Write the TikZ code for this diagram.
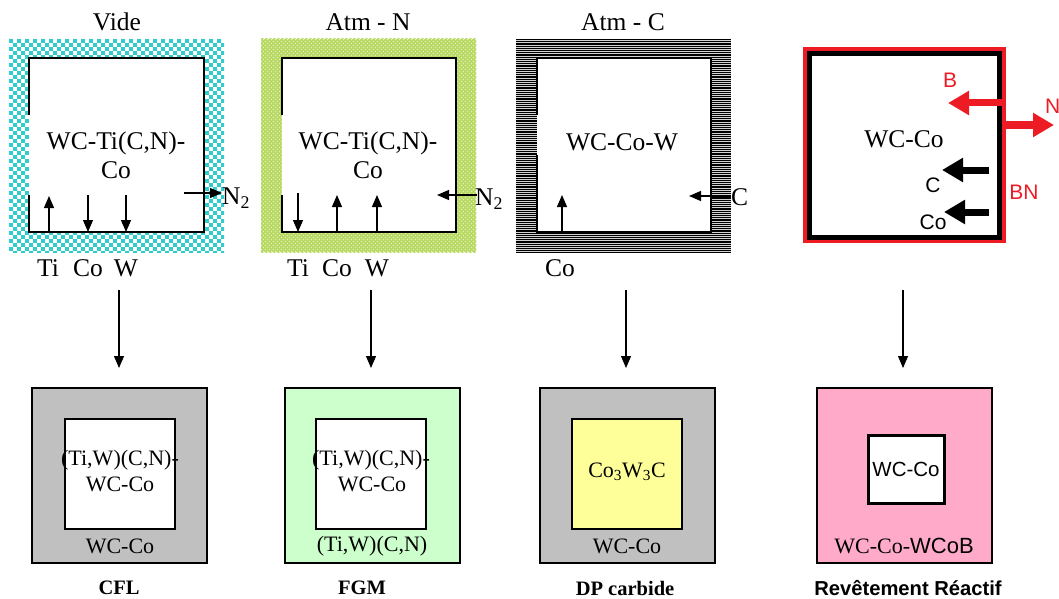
\documentclass[tikz,border=0pt]{standalone}
\usepackage{fontspec}
\setmainfont{Liberation Serif}
\newfontfamily\sansf{Liberation Sans}
\usetikzlibrary{arrows.meta}
\definecolor{cyanc}{HTML}{33CCCC}
\definecolor{greenbg}{HTML}{E4F2BA}
\definecolor{greenln}{HTML}{B3D75A}
\definecolor{grayfill}{HTML}{C0C0C0}
\definecolor{lightgreen}{HTML}{CCFFCC}
\definecolor{lightyellow}{HTML}{FFFF99}
\definecolor{pinkfill}{HTML}{FFAAC8}
\definecolor{redc}{HTML}{ED1C24}
\begin{document}
\begin{tikzpicture}[x=1pt,y=-1pt,
  toplbl/.style={font=\fontsize{25.5}{28}\selectfont, inner sep=0pt},
  botlbl/.style={font=\fontsize{22}{24}\selectfont, inner sep=0pt},
  caplbl/.style={font=\fontsize{20.5}{24}\selectfont\bfseries, inner sep=0pt},
  sanslbl/.style={font=\sansf\fontsize{21}{24}\selectfont, inner sep=0pt},
  thinarrow/.style={-{Triangle[width=10pt,length=12pt]}, line width=1.2pt},
  downarrow/.style={-{Triangle[width=10pt,length=12pt]}, line width=1.1pt},
  bigarrow/.style={-{Triangle[width=23pt,length=21pt]}, line width=7pt},
  innerline/.style={line width=2pt, line join=miter},
  outerbox/.style={draw, line width=2pt, minimum width=175pt, minimum height=175pt, inner sep=0pt},
  innerbox/.style={draw, line width=2pt, minimum width=110pt, minimum height=110pt, inner sep=0pt},
]
\useasboundingbox (0,0) rectangle (1059,599);

% ---------- Titles ----------
\node[toplbl] (t1) at (117,22) {Vide};
\node[toplbl] (t2) at (368,22) {Atm - N};
\node[toplbl] (t3) at (623,22) {Atm - C};

% ---------- Box 1 : checkerboard ----------
\begin{scope}
  \clip (9,39) rectangle (224,252);
  \fill[white] (9,39) rectangle (224,252);
  \foreach \x in {9,17,...,225} {
    \foreach \y in {39,47,...,253} {
      \fill[cyanc] (\x,\y) rectangle ++(4,4);
      \fill[cyanc] (\x+4,\y+4) rectangle ++(4,4);
    }
  }
\end{scope}
\fill[white] (29,58) rectangle (204,232);
\draw[innerline] (29,115) -- (29,58) -- (204,58) -- (204,232) -- (29,232) -- (29,195);

% ---------- Box 2 : green crosshatch ----------
\begin{scope}
  \clip (261,39) rectangle (476,252);
  \fill[greenbg] (261,39) rectangle (476,252);
  \foreach \k in {-216,-212,...,216} {
    \draw[greenln, line width=1.1pt] (261+\k,39) -- ++(215,215);
    \draw[greenln, line width=1.1pt] (261+\k,252) -- ++(215,-215);
  }
\end{scope}
\fill[white] (282,58) rectangle (456,232);
\draw[innerline] (282,115) -- (282,58) -- (456,58) -- (456,232) -- (282,232) -- (282,195);

% ---------- Box 3 : horizontal lines ----------
\begin{scope}
  \clip (516,39) rectangle (731,252);
  \fill[gray!35] (516,39) rectangle (731,252);
  \foreach \y in {39.6,41.8,...,253} {
    \draw[black, line width=1.2pt] (516,\y) -- (731,\y);
  }
\end{scope}
\fill[white] (537,58) rectangle (711,232);
\draw[innerline] (537,115) -- (537,58) -- (711,58) -- (711,232) -- (537,232) -- (537,155);

% ---------- Box 4 : red / black ----------
\draw[redc, line width=4.5pt] (805,49) rectangle (1003.5,241);
\draw[black, line width=5pt] (809.5,54) rectangle (999,237);

% ---------- Box texts (top) ----------
\node[toplbl] (w1a) at (116,143) {WC-Ti(C,N)-};
\node[toplbl] (w1b) at (116,170) {Co};
\node[toplbl] (w2a) at (368,143) {WC-Ti(C,N)-};
\node[toplbl] (w2b) at (368,170) {Co};
\node[toplbl] (w3a) at (622,142) {WC-Co-W};
\node[toplbl] (w4a) at (904,139) {WC-Co};

% ---------- Box 1 arrows ----------
\coordinate (b1ti0) at (49,232);  \coordinate (b1ti1) at (49,196);
\coordinate (b1co0) at (88,195);  \coordinate (b1co1) at (88,232);
\coordinate (b1w0)  at (126,195); \coordinate (b1w1)  at (126,232);
\coordinate (b1n0)  at (184,193); \coordinate (b1n1)  at (222,193);
\draw[thinarrow] (b1ti0) -- (b1ti1);
\draw[thinarrow] (b1co0) -- (b1co1);
\draw[thinarrow] (b1w0) -- (b1w1);
\draw[thinarrow] (b1n0) -- (b1n1);
\node[toplbl, anchor=west] (n21) at (222,198) {N\textsubscript{2}};
\node[toplbl] (l1ti) at (48,268) {Ti};
\node[toplbl] (l1co) at (88,268) {Co};
\node[toplbl] (l1w) at (126,268) {W};

% ---------- Box 2 arrows ----------
\coordinate (b2ti0) at (298,193); \coordinate (b2ti1) at (298,232);
\coordinate (b2co0) at (337,232); \coordinate (b2co1) at (337,195);
\coordinate (b2w0)  at (377,232); \coordinate (b2w1)  at (377,195);
\coordinate (b2n0)  at (477,195); \coordinate (b2n1)  at (437,195);
\draw[thinarrow] (b2ti0) -- (b2ti1);
\draw[thinarrow] (b2co0) -- (b2co1);
\draw[thinarrow] (b2w0) -- (b2w1);
\draw[thinarrow] (b2n0) -- (b2n1);
\node[toplbl, anchor=west] (n22) at (475,199) {N\textsubscript{2}};
\node[toplbl] (l2ti) at (298,268) {Ti};
\node[toplbl] (l2co) at (337,268) {Co};
\node[toplbl] (l2w) at (377,268) {W};

% ---------- Box 3 arrows ----------
\coordinate (b3co0) at (562,232); \coordinate (b3co1) at (562,195);
\coordinate (b3c0)  at (731,196); \coordinate (b3c1)  at (689,196);
\draw[thinarrow] (b3co0) -- (b3co1);
\draw[thinarrow] (b3c0) -- (b3c1);
\node[toplbl, anchor=west] (l3c) at (731,197) {C};
\node[toplbl] (l3co) at (560,268) {Co};

% ---------- Box 4 arrows ----------
\coordinate (b4b0) at (1002,103); \coordinate (b4b1) at (948,103);
\coordinate (b4n0) at (1006,125); \coordinate (b4n1) at (1054,125);
\coordinate (b4c0) at (989,170);  \coordinate (b4c1) at (942,170);
\coordinate (b4o0) at (989,212);  \coordinate (b4o1) at (944,212);
\draw[bigarrow, redc] (b4b0) -- (b4b1);
\draw[bigarrow, redc] (b4n0) -- (b4n1);
\draw[bigarrow, black] (b4c0) -- (b4c1);
\draw[bigarrow, black] (b4o0) -- (b4o1);
\node[sanslbl, text=redc] (l4b) at (950,80) {B};
\node[sanslbl, text=redc, anchor=west] (l4n) at (1045,106) {N};
\node[sanslbl, text=redc] (l4bn) at (1024,192) {BN};
\node[sanslbl] (l4c) at (933,185) {C};
\node[sanslbl] (l4co) at (933,222) {Co};

% ---------- Bottom boxes ----------
\node[outerbox, fill=grayfill] (o1) at (119.5,475.5) {};
\node[innerbox, fill=white] (i1) at (120,474) {};
\node[outerbox, fill=lightgreen] (o2) at (372,475.5) {};
\node[innerbox, fill=white] (i2) at (371,474) {};
\node[outerbox, fill=grayfill] (o3) at (627.5,475.5) {};
\node[innerbox, fill=lightyellow] (i3) at (627,474) {};
\node[outerbox, fill=pinkfill] (o4) at (904.5,475.5) {};
\node[innerbox, fill=white, line width=3pt, minimum width=76pt, minimum height=68pt] (i4) at (906,469) {};

% ---------- Down arrows ----------
\coordinate (d1a) at (119,290); \coordinate (d1b) at (119,368);
\coordinate (d2a) at (371,290); \coordinate (d2b) at (371,368);
\coordinate (d3a) at (626,290); \coordinate (d3b) at (626,368);
\coordinate (d4a) at (903,290); \coordinate (d4b) at (903,368);
\draw[downarrow] (d1a) -- (d1b);
\draw[downarrow] (d2a) -- (d2b);
\draw[downarrow] (d3a) -- (d3b);
\draw[downarrow] (d4a) -- (d4b);

% ---------- Bottom texts ----------
\node[botlbl] (x1a) at (120,460) {(Ti,W)(C,N)-};
\node[botlbl] (x1b) at (120,484) {WC-Co};
\node[botlbl] (x1c) at (120,546) {WC-Co};
\node[botlbl] (x2a) at (371,460) {(Ti,W)(C,N)-};
\node[botlbl] (x2b) at (372,484) {WC-Co};
\node[botlbl] (x2c) at (372,546) {(Ti,W)(C,N)};
\node[botlbl] (x3a) at (627,472) {Co\textsubscript{3}W\textsubscript{3}C};
\node[botlbl] (x3b) at (627,546) {WC-Co};
\node[sanslbl, font=\sansf\fontsize{20.5}{24}\selectfont] (x4a) at (906,469) {WC-Co};
\node[botlbl] (x4b) at (904,546) {WC-Co-{\sansf WCoB}};

\node[caplbl] (c1) at (119,588) {CFL};
\node[caplbl] (c2) at (362,588) {FGM};
\node[caplbl] (c3) at (625,588) {DP carbide};
\node[inner sep=0pt, font=\sansf\bfseries\fontsize{20.2}{22}\selectfont] (c4) at (908,588) {Revêtement Réactif};
\end{tikzpicture}
\end{document}
